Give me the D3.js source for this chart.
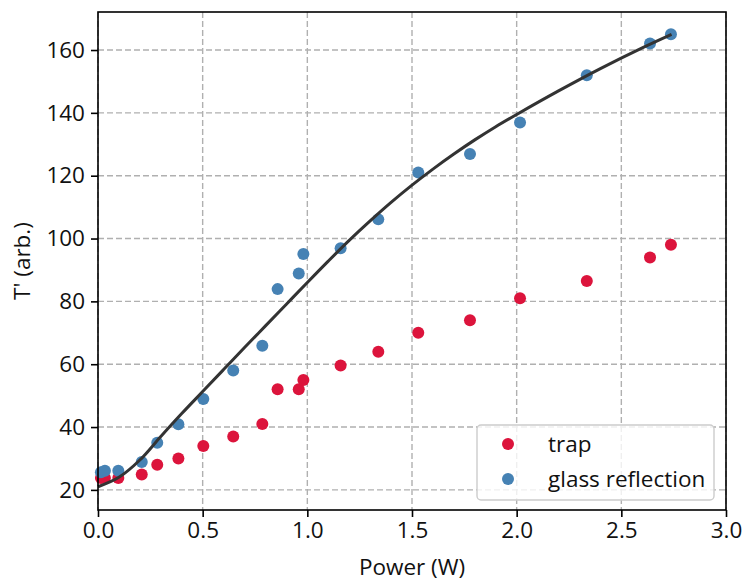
<!DOCTYPE html>
<html>
<head>
<meta charset="utf-8">
<script src="https://cdn.jsdelivr.net/npm/d3@7"></script>
<style>
  body { margin: 0; background: #fff; }
  svg text { font-family: "Open Sans", "Noto Sans", sans-serif; fill: #111; }
</style>
</head>
<body>
<div id="chart"></div>
<script>
// Power (W) for each measurement
const power = [0.014, 0.033, 0.097, 0.209, 0.283, 0.384, 0.503, 0.646, 0.785, 0.858, 0.959, 0.981,
               1.159, 1.339, 1.530, 1.777, 2.016, 2.335, 2.637, 2.737];
// T' values, trap series
const trap = [23.8, 23.8, 23.8, 24.9, 28, 30, 34, 37, 41, 52, 52, 55,
              59.6, 64, 70, 74, 81, 86.5, 94, 98];
// T' values, glass reflection series
const glass = [25.6, 26.1, 26.1, 28.9, 35, 40.9, 48.9, 58, 65.9, 83.9, 88.9, 95.1,
               96.9, 106.1, 121, 126.9, 136.9, 152, 162.1, 165];
// fitted curve
const fitX = [0, 0.1, 0.2, 0.3, 0.4, 0.5, 0.6, 0.7, 0.8, 0.9, 1.0, 1.1, 1.2, 1.3, 1.4, 1.5,
              1.6, 1.7, 1.8, 1.9, 2.0, 2.2, 2.4, 2.6, 2.74];
const fitY = [21, 24, 29.5, 37, 44.3, 51.3, 58.3, 65.3, 72.2, 79.1, 86, 92.8, 99.4, 105.6, 111.5, 117,
              122.1, 126.9, 131.4, 135.6, 139.5, 147, 154.1, 160.7, 165];

const xTicks = [0, 0.5, 1.0, 1.5, 2.0, 2.5, 3.0];
const yTicks = [20, 40, 60, 80, 100, 120, 140, 160];

const series = [
  { name: "trap", values: trap, color: "#dc143c" },
  { name: "glass reflection", values: glass, color: "#4682b4" }
];

const width = 745, height = 581;
const margin = { top: 12, right: 19, bottom: 71, left: 98 };
const iw = width - margin.left - margin.right;
const ih = height - margin.top - margin.bottom;
const fs = "22.5px";

const svg = d3.select("#chart").append("svg")
  .attr("width", width)
  .attr("height", height);

const x = d3.scaleLinear().domain([0, 3]).range([0, iw]);
const y = d3.scaleLinear().domain([13.6, 172.1]).range([ih, 0]);

const g = svg.append("g").attr("transform", `translate(${margin.left},${margin.top})`);

// grid
const grid = g.append("g").attr("class", "grid")
  .attr("stroke", "#b0b0b0")
  .attr("stroke-width", 1.4)
  .attr("stroke-dasharray", "6,3");
grid.selectAll(".gx").data(xTicks).enter().append("line")
  .attr("x1", d => x(d)).attr("x2", d => x(d))
  .attr("y1", 0).attr("y2", ih);
grid.selectAll(".gy").data(yTicks).enter().append("line")
  .attr("y1", d => y(d)).attr("y2", d => y(d))
  .attr("x1", 0).attr("x2", iw);

// points
series.forEach(s => {
  g.append("g").selectAll("circle")
    .data(power.map((p, i) => [p, s.values[i]]))
    .enter().append("circle")
    .attr("cx", d => x(d[0]))
    .attr("cy", d => y(d[1]))
    .attr("r", 6)
    .attr("fill", s.color);
});

// fit line
const line = d3.line()
  .x(d => x(d[0]))
  .y(d => y(d[1]))
  .curve(d3.curveCatmullRom);
g.append("path")
  .datum(fitX.map((v, i) => [v, fitY[i]]))
  .attr("d", line)
  .attr("fill", "none")
  .attr("stroke", "#333333")
  .attr("stroke-width", 3);

// axes
const xAxis = g.append("g")
  .attr("transform", `translate(0,${ih})`)
  .call(d3.axisBottom(x).tickValues(xTicks).tickFormat(d3.format(".1f")).tickSizeOuter(0).tickSize(7).tickPadding(5));
const yAxis = g.append("g")
  .call(d3.axisLeft(y).tickValues(yTicks).tickSizeOuter(0).tickSize(7).tickPadding(6));
[xAxis, yAxis].forEach(a => {
  a.select(".domain").remove();
  a.selectAll("line").attr("stroke", "#000").attr("stroke-width", 1.6);
  a.selectAll("text").style("font-size", fs).attr("fill", "#111");
});

// frame
g.append("rect")
  .attr("width", iw).attr("height", ih)
  .attr("fill", "none")
  .attr("stroke", "#000")
  .attr("stroke-width", 1.6);

// axis labels
svg.append("text")
  .attr("x", margin.left + iw / 2)
  .attr("y", 575)
  .attr("text-anchor", "middle")
  .style("font-size", fs)
  .text("Power (W)");
svg.append("text")
  .attr("transform", `translate(30,${margin.top + ih / 2}) rotate(-90)`)
  .attr("text-anchor", "middle")
  .style("font-size", fs)
  .text("T' (arb.)");

// legend
const lg = g.append("g").attr("transform", `translate(${iw - 249},${ih - 85})`);
lg.append("rect")
  .attr("width", 237).attr("height", 75)
  .attr("rx", 4)
  .attr("fill", "#fff").attr("fill-opacity", 0.8)
  .attr("stroke", "#cccccc").attr("stroke-width", 1.4);
series.forEach((s, i) => {
  const row = lg.append("g").attr("transform", `translate(0,${19 + i * 35})`);
  row.append("circle").attr("cx", 31).attr("cy", 0).attr("r", 6).attr("fill", s.color);
  row.append("text").attr("x", 71).attr("y", 0).attr("dy", "0.35em")
    .style("font-size", fs).text(s.name);
});
</script>
</body>
</html>
